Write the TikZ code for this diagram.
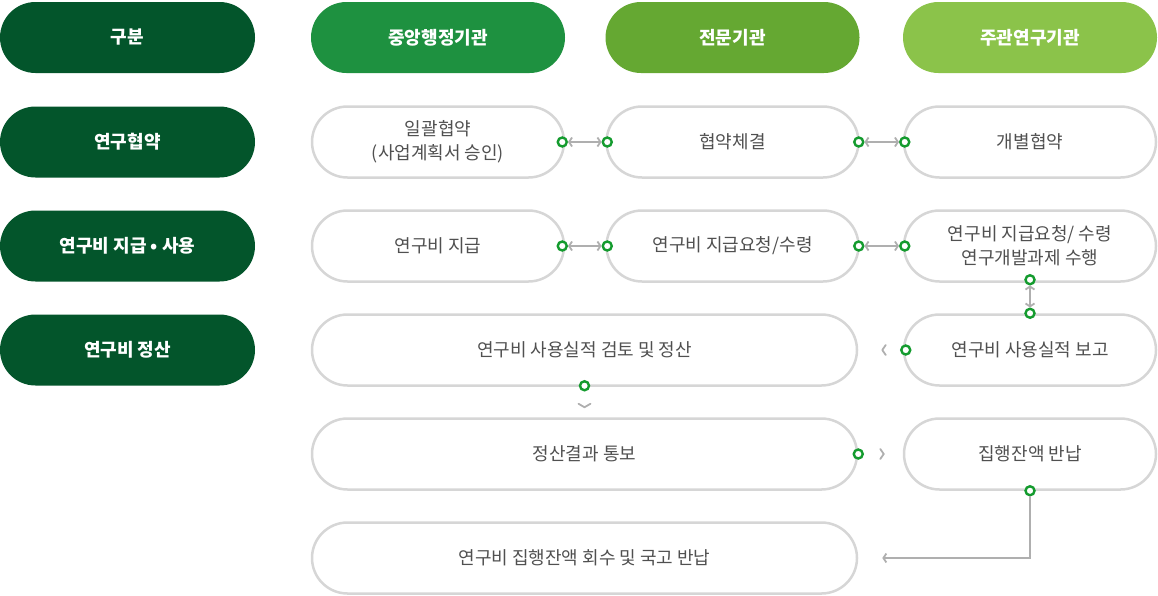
\documentclass[tikz,border=0pt]{standalone}
\usepackage{fontspec}
\setmainfont{Noto Sans CJK KR}
\usepackage{tikz}
\usetikzlibrary{positioning, arrows.meta}

\definecolor{darkgrn}{HTML}{03552B}
\definecolor{grnA}{HTML}{1E9140}
\definecolor{grnB}{HTML}{65A832}
\definecolor{grnC}{HTML}{8BC34A}
\definecolor{dotgrn}{HTML}{149B2E}
\definecolor{pillgray}{HTML}{D6D6D6}
\definecolor{linkgray}{HTML}{AFAFAF}
\definecolor{txtgray}{HTML}{505050}

\begin{document}
\begin{tikzpicture}[x=1pt, y=-1pt,
    pill/.style={rounded corners=35.5pt, minimum height=71pt, inner sep=0pt,
        align=center, font=\fontsize{18}{24}\selectfont},
    head/.style={pill, fill=#1, text=white, minimum width=254pt,
        font=\fontsize{18}{24}\selectfont\bfseries},
    stage/.style={pill, draw=pillgray, line width=2.5pt, fill=white,
        text=txtgray, minimum width=#1},
    stage/.default=252pt,
    dot/.style={circle, draw=dotgrn, fill=white, line width=2.4pt,
        minimum size=9pt, inner sep=0pt},
    link/.style={linkgray, line width=1.8pt,
        {Straight Barb[length=3pt, width=9pt]}-{Straight Barb[length=3pt, width=9pt]}},
    chev/.style={linkgray, line width=1.8pt, line cap=round, line join=round}
]
    \useasboundingbox (0,0) rectangle (1158,595);

    % Header
    \node[head=darkgrn, minimum width=255pt] (h0) at (127.5,37.5) {구분};
    \node[head=grnA] (h1) at (438,37.5) {중앙행정기관};
    \node[head=grnB] (h2) at (732.5,37.5) {전문기관};
    \node[head=grnC] (h3) at (1030,37.5) {주관연구기관};

    % Row labels
    \node[head=darkgrn, minimum width=255pt] (l1) at (127.5,142) {연구협약};
    \node[head=darkgrn, minimum width=255pt] (l2) at (127.5,246) {연구비 지급 • 사용};
    \node[head=darkgrn, minimum width=255pt] (l3) at (127.5,350) {연구비 정산};

    % Stages
    \node[stage] (r1a) at (438,142) {일괄협약\\(사업계획서 승인)};
    \node[stage] (r1b) at (732.5,142) {협약체결};
    \node[stage] (r1c) at (1030,142) {개별협약};

    \node[stage] (r2a) at (438,246) {연구비 지급};
    \node[stage] (r2b) at (732.5,246) {연구비 지급요청/수령};
    \node[stage] (r2c) at (1030,246) {연구비 지급요청/ 수령\\연구개발과제 수행};

    \node[stage=545pt] (r3a) at (584.5,350) {연구비 사용실적 검토 및 정산};
    \node[stage] (r3c) at (1030,350) {연구비 사용실적 보고};

    \node[stage=545pt] (r4a) at (584.5,454) {정산결과 통보};
    \node[stage] (r4c) at (1030,454) {집행잔액 반납};

    \node[stage=545pt] (r5a) at (584.5,558) {연구비 집행잔액 회수 및 국고 반납};

    % Dots
    \node[dot] (d1a) at ([xshift=-3pt]r1a.east) {};
    \node[dot] (d1b) at ([xshift=2pt]r1b.west) {};
    \node[dot] (d1c) at ([xshift=-1pt]r1b.east) {};
    \node[dot] (d1d) at ([xshift=2pt]r1c.west) {};
    \node[dot] (d2a) at ([xshift=-3pt]r2a.east) {};
    \node[dot] (d2b) at ([xshift=2pt]r2b.west) {};
    \node[dot] (d2c) at ([xshift=-1pt]r2b.east) {};
    \node[dot] (d2d) at ([xshift=2pt]r2c.west) {};
    \node[dot] (d2e) at ([yshift=3pt]r2c.south) {};
    \node[dot] (d3c) at (r3c.north) {};
    \node[dot] (d3d) at ([xshift=3pt]r3c.west) {};
    \node[dot] (d3a) at ([yshift=1pt]r3a.south) {};
    \node[dot] (d4a) at (r4a.east) {};
    \node[dot] (d4c) at (r4c.south) {};

    % Links
    \draw[link] (d1a) -- (d1b);
    \draw[link] (d1c) -- (d1d);
    \draw[link] (d2a) -- (d2b);
    \draw[link] (d2c) -- (d2d);
    \draw[link] (d2e) -- (d3c);

    % Chevrons
    \draw[chev] ([xshift=-20pt,yshift=5pt]d3d.center) -- ++(-3.5,5) -- ++(3.5,5);
    \draw[chev] ([yshift=-18pt,xshift=-6pt]d3a.center) -- ++(6,3.5) -- ++(6,-3.5);
    \draw[chev] ([xshift=22pt,yshift=5pt]d4a.center) -- ++(3.5,5) -- ++(-3.5,5);

    % Return path
    \coordinate (ret) at ([xshift=24pt]r5a.east);
    \draw[linkgray, line width=1.8pt, -{Straight Barb[length=3pt, width=9pt]}]
        (d4c) |- (ret);

\end{tikzpicture}
\end{document}
